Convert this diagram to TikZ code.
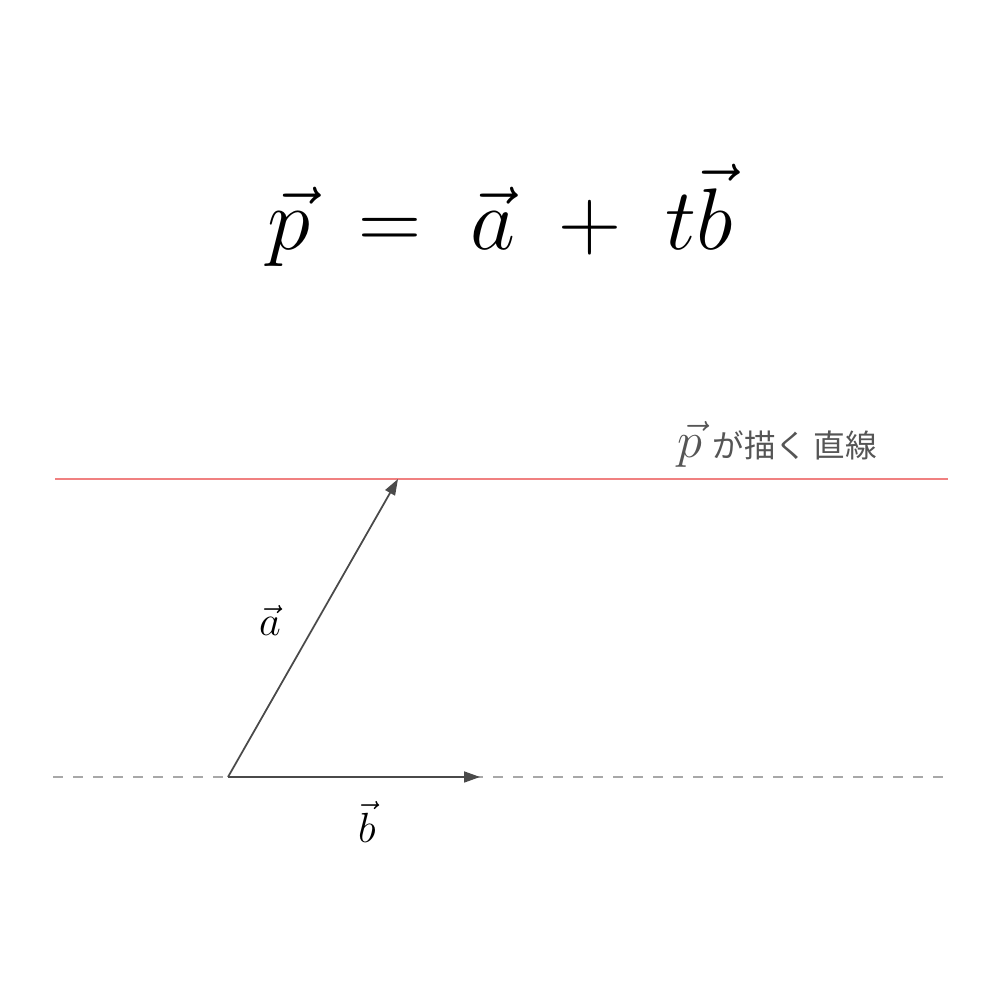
\documentclass[tikz,border=0pt]{standalone}
\usepackage{amsmath,amssymb}
\usepackage{fontspec}
\usepackage{xcolor}
\usepackage{tikz}
\usetikzlibrary{arrows.meta, positioning}
\newfontfamily\jpfont{Noto Sans CJK JP}
\definecolor{vecgray}{HTML}{4A4A4A}
\definecolor{linered}{HTML}{F08080}
\definecolor{dashgray}{HTML}{A8A8A8}
\definecolor{labelgray}{HTML}{555555}
\tikzset{
    vecarrow/.style={vecgray, line width=0.5pt, -{Triangle[length=1.6mm, width=1.1mm]}},
    veclabel/.style={font=\fontsize{13}{15}\selectfont}
}

\begin{document}
\begin{tikzpicture}
    \useasboundingbox (0,0) rectangle (10,10);

    % Formula
    \node[anchor=base] (formula) at (5,7.50)
        {\fontsize{46}{54}\selectfont $\vec{p} \;=\; \vec{a} \;+\; t\vec{b}$};

    % Points
    \coordinate (O) at (2.28,2.23);
    \coordinate (A) at (3.98,5.21);
    \coordinate (B) at (4.80,2.23);
    \coordinate (redL) at (0.55,5.21);
    \coordinate (redR) at (9.48,5.21);
    \coordinate (dashL) at (0.53,2.23);
    \coordinate (dashR) at (9.45,2.23);

    % Lines
    \draw[linered, line width=0.6pt] (redL) -- (redR);
    \draw[dashgray, line width=0.6pt, dash pattern=on 1mm off 1mm] (dashL) -- (dashR);

    % Vectors
    \draw[vecarrow] (O) -- (A);
    \draw[vecarrow] (O) -- (B);

    % Labels
    \node[veclabel] (alabel) at (2.70,3.80) {$\vec{a}$};
    \node[veclabel] (blabel) at (3.67,1.78) {$\vec{b}$};
    \node[labelgray, anchor=base west, inner sep=0pt] (plabel) at (6.77,5.42)
        {\fontsize{14}{16}\selectfont $\vec{p}$\hspace{1mm}\fontsize{9}{12}\selectfont\jpfont が描く\hspace{0.6mm}直線};
\end{tikzpicture}
\end{document}
